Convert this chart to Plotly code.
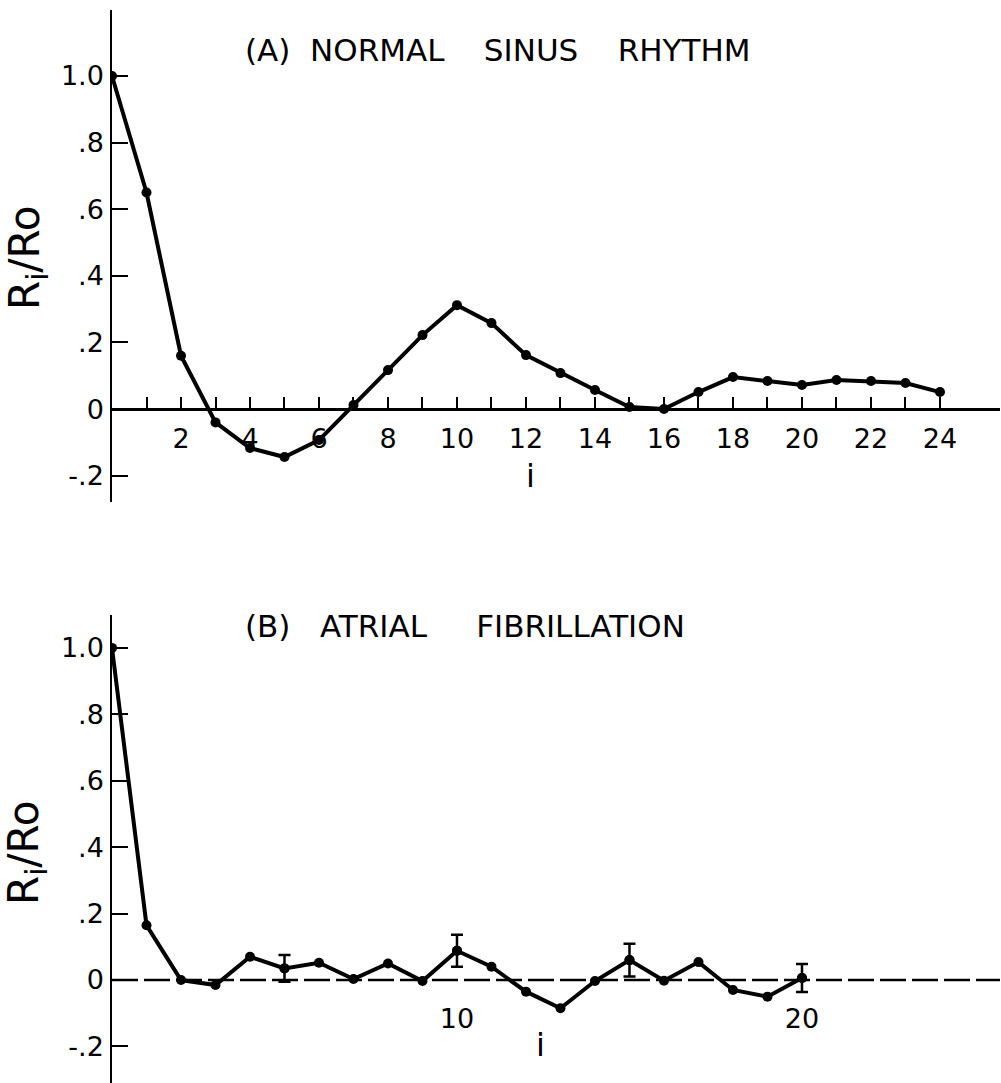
import plotly.graph_objects as go

# ---------------- data ----------------
lag_a = list(range(0, 25))
r_a = [1.0, 0.65, 0.16, -0.04, -0.117, -0.144, -0.093, 0.012, 0.117, 0.222, 0.312,
       0.258, 0.162, 0.108, 0.057, 0.006, 0.0, 0.051, 0.096, 0.084, 0.072, 0.087,
       0.084, 0.078, 0.051]

lag_b = list(range(0, 21))
r_b = [1.0, 0.165, 0.0, -0.015, 0.07, 0.035, 0.052, 0.003, 0.05, -0.003, 0.088,
       0.04, -0.035, -0.085, -0.003, 0.06, -0.002, 0.054, -0.03, -0.05, 0.006]

err_lags = [5, 10, 15, 20]
err_vals = [0.04, 0.048, 0.049, 0.042]

y_tickvals = [-0.2, 0, 0.2, 0.4, 0.6, 0.8, 1.0]
y_ticktext = ["-.2", "0", ".2", ".4", ".6", ".8", "1.0"]

xa_tickvals = list(range(2, 25, 2))
xa_ticktext = [str(v) for v in xa_tickvals]
xa_minor_ticks = list(range(1, 24, 2))
xb_tickvals = [10, 20]
xb_ticktext = ["10", "20"]

SP = "\u00a0"
title_a = "(A)" + SP * 2 + "NORMAL" + SP * 4 + "SINUS" + SP * 4 + "RHYTHM"
title_b = "(B)" + SP * 3 + "ATRIAL" + SP * 5 + "FIBRILLATION"
ylab = "R<sub>i</sub>/Ro"

# ---------------- layout geometry ----------------
W, H = 1001, 1083
FONT = "DejaVu Sans"
x_range = [0, 25.74]
x_dom = [112 / W, 1000 / W]
ya_range = [-0.279, 1.198]
ya_dom = [1 - 502 / H, 1 - 10 / H]
yb_range = [-0.310, 1.099]
yb_dom = [0.0, 1 - 615 / H]


def zero_pos(rng, dom):
    return dom[0] + (0 - rng[0]) / (rng[1] - rng[0]) * (dom[1] - dom[0])


fig = go.Figure()
line_style = dict(color="black", width=4)
marker_style = dict(color="black", size=10, symbol="circle")

fig.add_trace(go.Scatter(x=lag_a, y=r_a, mode="lines+markers", line=line_style,
                         marker=marker_style, xaxis="x", yaxis="y", showlegend=False))
fig.add_trace(go.Scatter(x=lag_b, y=r_b, mode="lines+markers", line=line_style,
                         marker=marker_style, xaxis="x2", yaxis="y2", showlegend=False))
fig.add_trace(go.Scatter(x=err_lags, y=[r_b[i] for i in err_lags], mode="markers",
                         marker=dict(color="black", size=10),
                         error_y=dict(type="data", array=err_vals, visible=True,
                                      color="black", thickness=2.5, width=6),
                         xaxis="x2", yaxis="y2", showlegend=False))

tickfont = dict(family=FONT, size=27, color="black")

fig.update_layout(
    width=W, height=H, margin=dict(l=0, r=0, t=0, b=0),
    paper_bgcolor="white", plot_bgcolor="white",
    font=dict(family=FONT, color="black"),
    xaxis=dict(domain=x_dom, range=x_range, anchor="free",
               position=zero_pos(ya_range, ya_dom),
               showline=True, linecolor="black", linewidth=3,
               tickvals=xa_tickvals, ticktext=xa_ticktext, ticks="inside",
               ticklen=11, tickwidth=1.5, tickcolor="black",
               minor=dict(tickmode="array", tickvals=xa_minor_ticks, ticks="inside",
                          ticklen=11, tickwidth=1.5, tickcolor="black", showgrid=False),
               tickfont=tickfont, ticklabelstandoff=5,
               showgrid=False, zeroline=False),
    yaxis=dict(domain=ya_dom, range=ya_range, anchor="x",
               showline=True, linecolor="black", linewidth=1.5,
               tickvals=y_tickvals, ticktext=y_ticktext, ticks="inside",
               ticklen=16, tickwidth=2, tickcolor="black",
               tickfont=tickfont, ticklabelstandoff=1,
               showgrid=False, zeroline=False),
    xaxis2=dict(domain=x_dom, range=x_range, anchor="free",
                position=zero_pos(yb_range, yb_dom),
                showline=False, ticks="",
                tickvals=xb_tickvals, ticktext=xb_ticktext,
                tickfont=tickfont, ticklabelstandoff=20,
                showgrid=False, zeroline=False),
    yaxis2=dict(domain=yb_dom, range=yb_range, anchor="x2",
                showline=True, linecolor="black", linewidth=1.5,
                tickvals=y_tickvals, ticktext=y_ticktext, ticks="inside",
                ticklen=16, tickwidth=2, tickcolor="black",
                tickfont=tickfont, ticklabelstandoff=1,
                showgrid=False, zeroline=False),
    shapes=[dict(type="line", xref="x2 domain", yref="y2", x0=0, x1=1, y0=0, y1=0,
                 line=dict(color="black", width=2.5, dash="26px,6px"), layer="below")],
)

ann_font_title = dict(family=FONT, size=31, color="black")
ann_font_ylab = dict(family=FONT, size=42, color="black")
ann_font_i = dict(family=FONT, size=32, color="black")

fig.add_annotation(text=title_a, x=243 / W, y=1 - 50 / H, xref="paper", yref="paper",
                   xanchor="left", yanchor="middle", showarrow=False, font=ann_font_title)
fig.add_annotation(text=title_b, x=243 / W, y=1 - 626 / H, xref="paper", yref="paper",
                   xanchor="left", yanchor="middle", showarrow=False, font=ann_font_title)
fig.add_annotation(text=ylab, x=28 / W, y=1 - 258 / H, xref="paper", yref="paper",
                   textangle=-90, xanchor="center", yanchor="middle", showarrow=False,
                   font=ann_font_ylab)
fig.add_annotation(text=ylab, x=26 / W, y=1 - 853 / H, xref="paper", yref="paper",
                   textangle=-90, xanchor="center", yanchor="middle", showarrow=False,
                   font=ann_font_ylab)
fig.add_annotation(text="i", x=530 / W, y=1 - 476 / H, xref="paper", yref="paper",
                   xanchor="center", yanchor="middle", showarrow=False, font=ann_font_i)
fig.add_annotation(text="i", x=540 / W, y=1 - 1045 / H, xref="paper", yref="paper",
                   xanchor="center", yanchor="middle", showarrow=False, font=ann_font_i)

fig.write_html("out.html")
